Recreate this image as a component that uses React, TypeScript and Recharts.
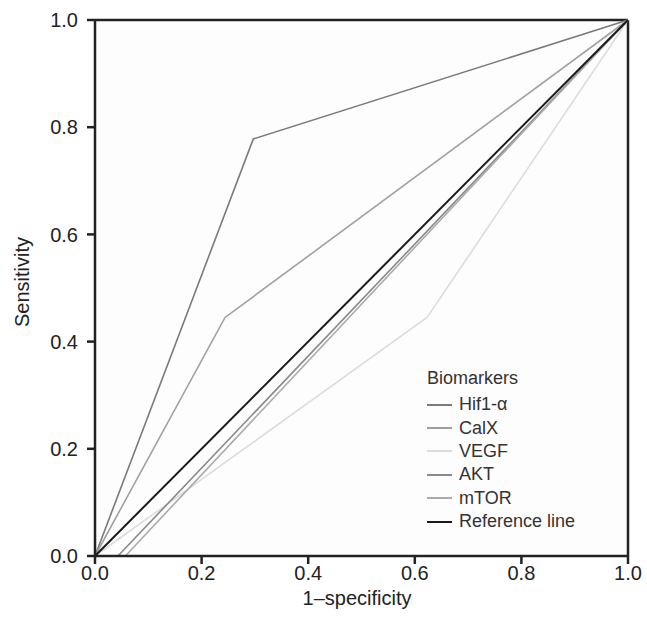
import { CartesianGrid, Line, LineChart, ReferenceLine, XAxis, YAxis } from "recharts";

const TICKS = [0, 0.2, 0.4, 0.6, 0.8, 1.0];

const SERIES = ["Hif1-α", "CalX", "VEGF", "AKT", "mTOR", "Reference line"];
const COLORS = ["#7a7a7a", "#a0a0a0", "#dcdcdc", "#8a8a8a", "#ababab", "#1a1a1a"];

// points along each ROC curve: [1-specificity, sensitivity]
const HIF1 = [[0, 0], [0.297, 0.778], [1, 1]];
const CALX = [[0, 0], [0.244, 0.445], [1, 1]];
const VEGF = [[0, 0], [0.623, 0.445], [1, 1]];
const AKT = [[0, 0], [0.043, 0], [1, 1]];
const MTOR = [[0, 0], [0.057, 0], [1, 1]];
const REF = [[0, 0], [1, 1]];

const CURVES = [HIF1, CALX, VEGF, AKT, MTOR, REF].map((pts) => pts.map(([x, y]) => ({ x, y })));

const FONT = "'Liberation Sans', Arial, sans-serif";
const AXIS = "#222";
const TEXT = "#222";

function BiomarkerLegend() {
  return (
    <div style={{ position: "absolute", left: 427, top: 366, fontFamily: FONT, fontSize: 18, color: "#333" }}>
      <div style={{ lineHeight: "24px", marginBottom: 3 }}>Biomarkers</div>
      {SERIES.map((name, i) => (
        <div key={name} style={{ display: "flex", alignItems: "center", height: 23.4 }}>
          <span style={{ width: 25, height: 0, borderTop: `${i === 5 ? 2.5 : 2}px solid ${COLORS[i]}`, marginRight: 7 }} />
          <span>{name}</span>
        </div>
      ))}
    </div>
  );
}

export default function App() {
  return (
    <div style={{ position: "absolute", left: 0, top: 0, width: 647, height: 624, background: "#fff" }}>
      <LineChart width={647} height={624} margin={{ top: 20, right: 19, bottom: 28, left: 35 }}>
        <CartesianGrid horizontal={false} vertical={false} fill="#fdfdfd" />
        <XAxis
          type="number"
          dataKey="x"
          domain={[0, 1]}
          ticks={TICKS}
          tickFormatter={(v) => v.toFixed(1)}
          height={40}
          tickSize={8}
          tickMargin={2}
          tick={{ fill: TEXT, fontSize: 20, fontFamily: FONT }}
          axisLine={{ stroke: AXIS, strokeWidth: 2.5 }}
          tickLine={{ stroke: AXIS, strokeWidth: 2.5 }}
          label={{
            content: () => (
              <text x={357} y={598} textAnchor="middle" dominantBaseline="central" fill={TEXT} fontSize={20} fontFamily={FONT}>
                1–specificity
              </text>
            ),
          }}
        />
        <YAxis
          type="number"
          dataKey="y"
          domain={[0, 1]}
          ticks={TICKS}
          tickFormatter={(v) => v.toFixed(1)}
          width={60}
          tickSize={8}
          tickMargin={9}
          tick={{ fill: TEXT, fontSize: 20, fontFamily: FONT }}
          axisLine={{ stroke: AXIS, strokeWidth: 2.5 }}
          tickLine={{ stroke: AXIS, strokeWidth: 2.5 }}
          label={{
            content: () => (
              <text x={22} y={282} transform="rotate(-90 22 282)" textAnchor="middle" dominantBaseline="central" fill={TEXT} fontSize={20} fontFamily={FONT}>
                Sensitivity
              </text>
            ),
          }}
        />
        <ReferenceLine y={1} stroke={AXIS} strokeWidth={2.5} />
        <ReferenceLine x={1} stroke={AXIS} strokeWidth={2.5} />
        {CURVES.map((d, i) => (
          <Line
            key={SERIES[i]}
            data={d}
            dataKey="y"
            name={SERIES[i]}
            type="linear"
            stroke={COLORS[i]}
            strokeWidth={i === 5 ? 2 : 1.6}
            dot={false}
            activeDot={false}
            isAnimationActive={false}
          />
        ))}
      </LineChart>
      <BiomarkerLegend />
    </div>
  );
}
